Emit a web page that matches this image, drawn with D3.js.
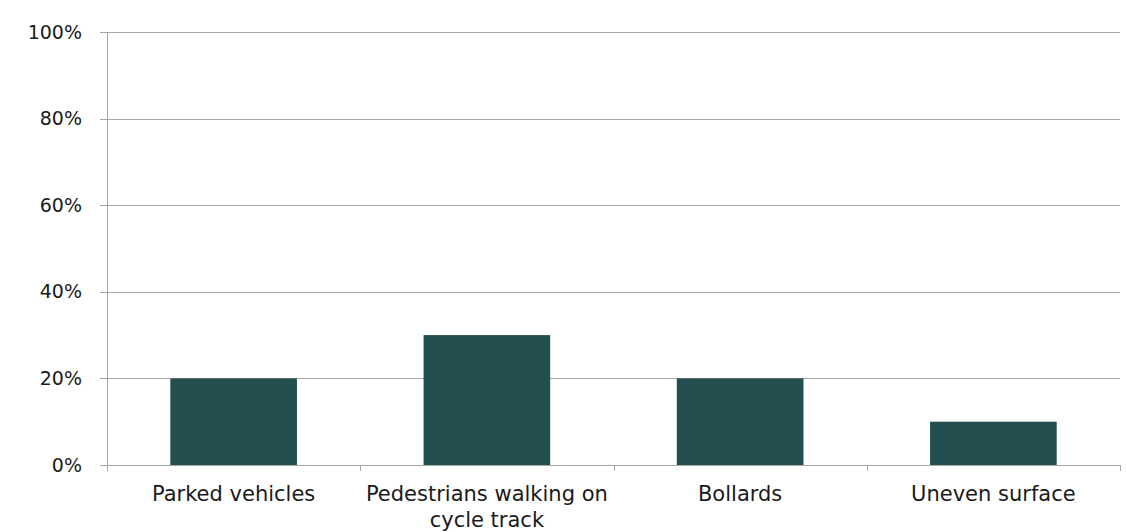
<!DOCTYPE html>
<html lang="en">
<head>
<meta charset="UTF-8">
<title>Obstacles</title>
<script src="https://cdn.jsdelivr.net/npm/d3@7"></script>
<style>
    body { margin: 0; background: #fff; }
    svg { display: block; font-family: "DejaVu Sans", "Noto Sans", sans-serif; }
    .grid line { stroke: #a6a6a6; stroke-width: 1px; }
    .tick text { fill: #1a1a1a; font-size: 19px; }
    .xlab text { fill: #1a1a1a; font-size: 21px; }
</style>
</head>
<body>
<svg width="1127" height="532"></svg>
<script>
    var categories = ['Parked vehicles', 'Pedestrians walking on|cycle track', 'Bollards', 'Uneven surface'];
    var values = [20, 30, 20, 10];
    var yTicks = [0, 20, 40, 60, 80, 100];

    var svg = d3.select('svg');
    var plotLeft = 107, plotRight = 1120, plotTop = 32, plotBottom = 465;

    var x = d3.scaleBand().domain(categories).range([plotLeft, plotRight]).paddingInner(0.5).paddingOuter(0.25);
    var y = d3.scaleLinear().domain([0, 100]).range([plotBottom, plotTop]);

    // horizontal grid
    var grid = svg.append('g').attr('class', 'grid');
    grid.selectAll('line')
        .data(yTicks)
        .enter()
        .append('line')
        .attr('x1', plotLeft - 7)
        .attr('x2', plotRight)
        .attr('y1', function (d) { return Math.round(y(d)) + 0.5; })
        .attr('y2', function (d) { return Math.round(y(d)) + 0.5; });

    // y labels
    svg.append('g')
        .attr('class', 'tick')
        .selectAll('text')
        .data(yTicks)
        .enter()
        .append('text')
        .attr('x', plotLeft - 25)
        .attr('y', function (d) { return y(d); })
        .attr('dy', '0.35em')
        .attr('text-anchor', 'end')
        .text(function (d) { return d + '%'; });

    // y axis line
    svg.append('line')
        .attr('x1', plotLeft + 0.5).attr('x2', plotLeft + 0.5)
        .attr('y1', plotTop).attr('y2', plotBottom + 6)
        .attr('stroke', '#a6a6a6');

    // category separators
    var seps = d3.range(1, categories.length + 1).map(function (i) {
        return plotLeft + i * (plotRight - plotLeft) / categories.length;
    });
    svg.selectAll('.sep')
        .data(seps)
        .enter()
        .append('line')
        .attr('x1', function (d) { return Math.round(d) + 0.5; })
        .attr('x2', function (d) { return Math.round(d) + 0.5; })
        .attr('y1', plotBottom)
        .attr('y2', plotBottom + 6)
        .attr('stroke', '#a6a6a6');

    // bars
    svg.selectAll('.bar')
        .data(values)
        .enter()
        .append('rect')
        .attr('x', function (d, i) { return x(categories[i]); })
        .attr('width', x.bandwidth())
        .attr('y', function (d) { return y(d); })
        .attr('height', function (d) { return plotBottom - y(d); })
        .attr('fill', '#234f50');

    // x labels
    var xl = svg.append('g').attr('class', 'xlab');
    categories.forEach(function (c) {
        var cx = x(c) + x.bandwidth() / 2;
        var t = xl.append('text')
            .attr('text-anchor', 'middle')
            .attr('x', cx)
            .attr('y', 501);
        c.split('|').forEach(function (line, j) {
            t.append('tspan')
                .attr('x', cx)
                .attr('dy', j === 0 ? 0 : 26)
                .text(line);
        });
    });
</script>
</body>
</html>
